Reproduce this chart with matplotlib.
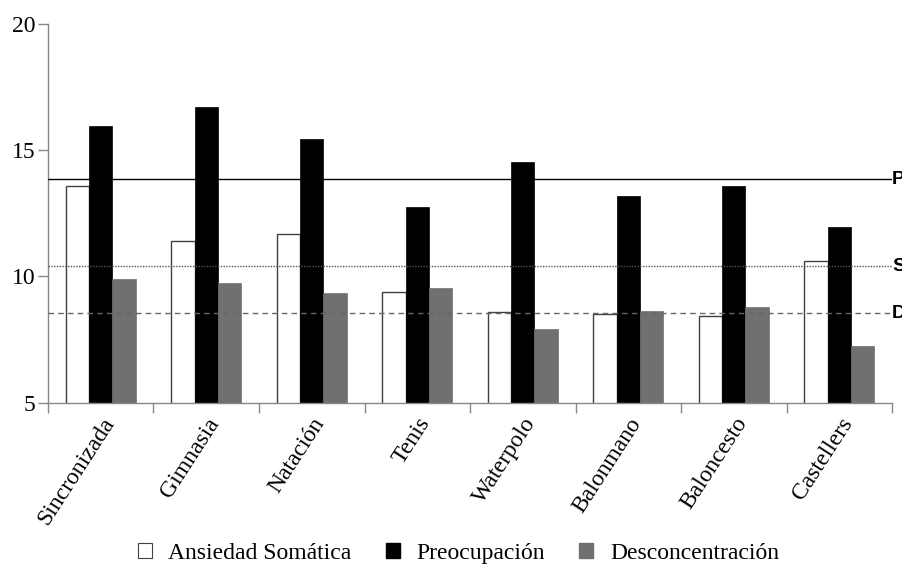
import matplotlib.pyplot as plt
import numpy as np
from matplotlib.patches import Patch

deportes = ["Sincronizada", "Gimnasia", "Natación", "Tenis", "Waterpolo",
            "Balonmano", "Baloncesto", "Castellers"]
somatica = [13.6, 11.4, 11.7, 9.4, 8.6, 8.5, 8.45, 10.6]
preocupacion = [15.95, 16.7, 15.45, 12.75, 14.55, 13.2, 13.6, 11.95]
desconcentracion = [9.9, 9.75, 9.35, 9.55, 7.9, 8.65, 8.8, 7.25]
series_labels = ["Ansiedad Somática", "Preocupación", "Desconcentración"]

# reference levels
ref_p = 13.85
ref_s = 10.4
ref_d = 8.55

plt.rcParams['font.family'] = ['Liberation Serif', 'DejaVu Serif']

fig = plt.figure(figsize=(9.02, 5.69), dpi=100)
ax = fig.add_axes([0.0532, 0.2923, 0.9358, 0.6655])

x = np.arange(len(deportes))
w = 0.221
ax.bar(x - w, somatica, w, color="white", edgecolor="#404040",
       linewidth=1.0, zorder=2)
ax.bar(x, preocupacion, w, color="black", edgecolor="black", linewidth=0.5,
       zorder=2)
ax.bar(x + w, desconcentracion, w, color="#707070", edgecolor="#707070",
       linewidth=0.5, zorder=2)

ax.axhline(ref_p, color="black", lw=1.0, zorder=3)
ax.axhline(ref_s, color="#555555", lw=1.0, ls=(0, (1, 1)), zorder=3)
ax.axhline(ref_d, color="#666666", lw=1.0, ls=(0, (4, 3)), zorder=3)
for val, lab in [(ref_p, "P"), (ref_s, "S"), (ref_d, "D")]:
    ax.text(1.0, val, lab, transform=ax.get_yaxis_transform(),
            ha="left", va="center", fontsize=14, fontweight="bold",
            family=["Liberation Sans", "DejaVu Sans"], clip_on=False)

ax.set_xlim(-0.5, len(deportes) - 0.5)
ax.set_ylim(5, 20)
ax.set_yticks([5, 10, 15, 20])
ax.tick_params(axis="y", direction="out", length=7, width=1, color="#888888",
               labelsize=17, pad=2)

ax.set_xticks(x)
ax.set_xticklabels(deportes, rotation=57, ha="right", rotation_mode="anchor",
                   fontsize=17)
ax.set_xticks(np.arange(len(deportes) + 1) - 0.5, minor=True)
ax.tick_params(axis="x", which="major", length=0, pad=8)
ax.tick_params(axis="x", which="minor", direction="out", length=7, width=1,
               color="#888888")

for side in ["top", "right"]:
    ax.spines[side].set_visible(False)
for side in ["left", "bottom"]:
    ax.spines[side].set_color("#888888")
    ax.spines[side].set_linewidth(1.0)

handles = [Patch(facecolor="white", edgecolor="#404040", linewidth=0.8),
           Patch(facecolor="black", edgecolor="black"),
           Patch(facecolor="#707070", edgecolor="#707070")]
fig.legend(handles, series_labels, loc="center", bbox_to_anchor=(0.508, 0.028),
           ncol=3, frameon=False, fontsize=17, handlelength=0.6,
           handleheight=0.6, handletextpad=0.7, columnspacing=1.45)

fig.savefig("out.png", dpi=100)
